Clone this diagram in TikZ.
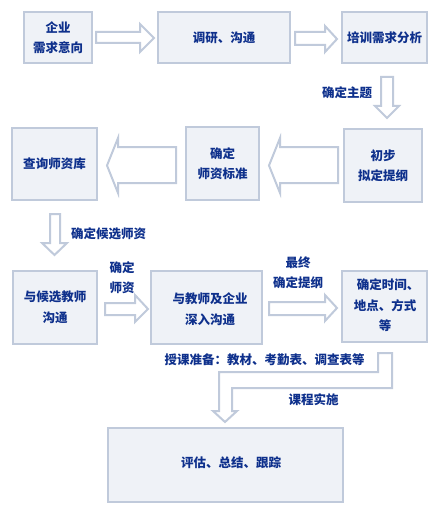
\documentclass[tikz,border=0pt]{standalone}
\usepackage{fontspec}
\setmainfont{Noto Sans CJK SC}
\definecolor{boxline}{RGB}{192,202,219}
\definecolor{boxfill}{RGB}{239,242,247}
\definecolor{txt}{RGB}{14,48,140}
\tikzset{
  box/.style={draw=boxline, fill=boxfill, line width=2.2pt, inner sep=0pt, align=center,
    text=txt, font=\fontsize{12.5}{20.5}\selectfont\bfseries},
  lbl/.style={text=txt, inner sep=0pt, align=center, font=\fontsize{12.5}{20}\selectfont\bfseries},
  barrow/.style={draw=boxline, fill=white, line width=2pt, line join=miter}
}
\begin{document}
\begin{tikzpicture}[x=1pt,y=-1pt]
\useasboundingbox (0,0) rectangle (440,516);
% boxes
\node[box, minimum width=68, minimum height=51] (b1) at (58,37.5) {企业\\需求意向};
\node[box, minimum width=132, minimum height=51] (b2) at (224,37.5) {调研、沟通};
\node[box, minimum width=85, minimum height=51] (b3) at (384.5,37.5) {培训需求分析};
\node[box, minimum width=85, minimum height=72] (b4) at (54.5,164) {查询师资库};
\node[box, minimum width=73, minimum height=73] (b5) at (222.5,163.5) {确定\\师资标准};
\node[box, minimum width=78, minimum height=73] (b6) at (383,165.5) {初步\\拟定提纲};
\node[box, minimum width=84, minimum height=73] (b7) at (55,307.5) {与候选教师\\沟通};
\node[box, minimum width=111, minimum height=73] (b8) at (206.5,307.5) {};
\node[lbl, font=\fontsize{12.5}{21}\selectfont\bfseries] (t8) at (210,309.5) {与教师及企业\\深入沟通};
\node[box, minimum width=85, minimum height=71] (b9) at (384.5,306.5) {};
\node[lbl, font=\fontsize{12.5}{20.5}\selectfont\bfseries] (t9) at (385,305.5) {\hspace*{6pt}确定时间、\\地点、方式\\等};
\node[box, minimum width=235, minimum height=74] (b10) at (225.5,465) {};
\node[lbl] (t10) at (231,463) {评估、总结、跟踪};
% block arrows
\draw[barrow] (96,32) -- (140,32) -- (140,24) -- (154,38) -- (140,52) -- (140,43) -- (96,43) -- cycle;
\draw[barrow] (295,32) -- (325,32) -- (325,26) -- (337,39) -- (325,52) -- (325,45) -- (295,45) -- cycle;
\draw[barrow] (381,77) -- (393,77) -- (393,106) -- (399,106) -- (387,118) -- (375,106) -- (381,106) -- cycle;
\draw[barrow] (176,147) -- (118,147) -- (118,138) -- (107,165.5) -- (118,193) -- (118,183) -- (176,183) -- cycle;
\draw[barrow] (338,147) -- (280,147) -- (280,138) -- (269,165.5) -- (280,193) -- (280,183) -- (338,183) -- cycle;
\draw[barrow] (50,214) -- (60,214) -- (60,243) -- (67,243) -- (54.5,255) -- (42,243) -- (50,243) -- cycle;
\draw[barrow] (105,303) -- (135,303) -- (135,295) -- (148,309) -- (135,322) -- (135,315) -- (105,315) -- cycle;
\draw[barrow] (269,302) -- (325,302) -- (325,295) -- (337,308) -- (325,321) -- (325,315) -- (269,315) -- cycle;
\draw[barrow] (392,353) -- (392,388) -- (232,388) -- (232,411) -- (237,411) -- (225,422) -- (213,411) -- (219,411) -- (219,372) -- (378,372) -- (378,353) -- cycle;
% labels
\node[lbl] (l1) at (347,93) {确定主题};
\node[lbl] (l2) at (108.5,234) {确定候选师资};
\node[lbl] (l3) at (122,278) {确定\\师资};
\node[lbl] (l4) at (298,273) {最终\\确定提纲};
\node[lbl] (l5) at (264.5,360) {授课准备：教材、考勤表、调查表等};
\node[lbl] (l6) at (313.5,400) {课程实施};
\end{tikzpicture}
\end{document}
